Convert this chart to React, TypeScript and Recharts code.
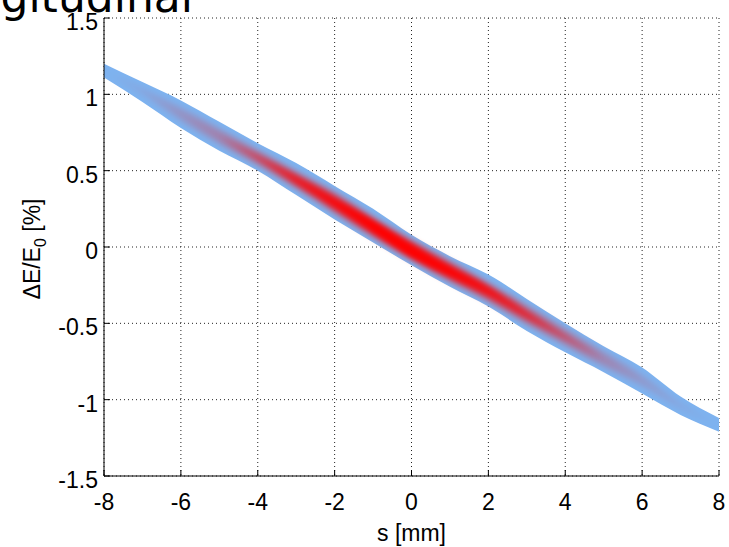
import { ComposedChart, Area, XAxis, YAxis, CartesianGrid, Label } from 'recharts';

const sVals = [-8, -7, -6, -5, -4, -3, -2, -1, 0, 1, 2, 3, 4, 5, 6, 7, 8];

// outer (light blue) envelope of the particle cloud, dE/E0 [%]
const bandUpper = [1.2, 1.08, 0.96, 0.82, 0.68, 0.55, 0.4, 0.25, 0.08, -0.06, -0.18, -0.34, -0.5, -0.65, -0.79, -0.98, -1.12];
const bandLower = [1.11, 0.95, 0.78, 0.63, 0.5, 0.34, 0.18, 0.03, -0.12, -0.26, -0.39, -0.55, -0.69, -0.82, -0.96, -1.1, -1.21];

// denser (pink/red) part of the cloud
const haloUpper = [1.17, 1.04, 0.91, 0.77, 0.63, 0.49, 0.35, 0.19, 0.04, -0.1, -0.24, -0.39, -0.54, -0.69, -0.84, -1.02, -1.15];
const haloLower = [1.14, 1.0, 0.83, 0.68, 0.54, 0.39, 0.23, 0.07, -0.08, -0.22, -0.35, -0.5, -0.64, -0.78, -0.91, -1.06, -1.18];

// core (bright red)
const coreUpper = [1.16, 1.03, 0.89, 0.75, 0.61, 0.47, 0.32, 0.17, 0.01, -0.13, -0.26, -0.42, -0.57, -0.71, -0.86, -1.03, -1.16];
const coreLower = [1.15, 1.01, 0.85, 0.7, 0.56, 0.41, 0.26, 0.1, -0.06, -0.19, -0.32, -0.47, -0.61, -0.76, -0.89, -1.05, -1.17];

const xTicks = [-8, -6, -4, -2, 0, 2, 4, 6, 8];
const yTicks = [-1.5, -1, -0.5, 0, 0.5, 1, 1.5];

const data = sVals.map((s, i) => ({
  s,
  band: [bandLower[i], bandUpper[i]],
  halo: [haloLower[i], haloUpper[i]],
  core: [coreLower[i], coreUpper[i]],
}));

const FONT = '"Liberation Sans", Arial, sans-serif';

const YLabel = (props: any) => {
  const vb = props.viewBox ?? { x: 0, y: 18, width: 104, height: 458 };
  const cx = vb.x + 40;
  const cy = vb.y + vb.height / 2 + 2;
  return (
    <text
      x={cx}
      y={cy}
      transform={`rotate(-90, ${cx}, ${cy})`}
      textAnchor="middle"
      fontSize={23}
      fontFamily={FONT}
      fill="#000"
    >
      ΔE/E<tspan dy={6} fontSize={16}>0</tspan>
      <tspan dy={-6}> [%]</tspan>
    </text>
  );
};

export default function App() {
  return (
    <div style={{ position: 'absolute', left: 0, top: 0, width: 729, height: 547, background: '#fff', overflow: 'hidden' }}>
      <ComposedChart width={729} height={547} data={data} margin={{ top: 18, right: 10, left: 0, bottom: 0 }}>
        <defs>
          <linearGradient id="haloFill" x1="0" y1="0" x2="1" y2="0">
            <stop offset="0" stopColor="#ff0000" stopOpacity={0} />
            <stop offset="0.125" stopColor="#ff0000" stopOpacity={0.18} />
            <stop offset="0.25" stopColor="#ff0000" stopOpacity={0.38} />
            <stop offset="0.375" stopColor="#ff0000" stopOpacity={0.7} />
            <stop offset="0.5" stopColor="#ff0000" stopOpacity={0.85} />
            <stop offset="0.625" stopColor="#ff0000" stopOpacity={0.62} />
            <stop offset="0.75" stopColor="#ff0000" stopOpacity={0.36} />
            <stop offset="0.875" stopColor="#ff0000" stopOpacity={0.15} />
            <stop offset="1" stopColor="#ff0000" stopOpacity={0} />
          </linearGradient>
          <linearGradient id="coreFill" x1="0" y1="0" x2="1" y2="0">
            <stop offset="0.19" stopColor="#ff0000" stopOpacity={0} />
            <stop offset="0.31" stopColor="#ff0000" stopOpacity={0.6} />
            <stop offset="0.44" stopColor="#ff0000" stopOpacity={1} />
            <stop offset="0.5" stopColor="#ff0000" stopOpacity={1} />
            <stop offset="0.56" stopColor="#ff0000" stopOpacity={0.95} />
            <stop offset="0.69" stopColor="#ff0000" stopOpacity={0.5} />
            <stop offset="0.81" stopColor="#ff0000" stopOpacity={0} />
          </linearGradient>
          <filter id="softA" x="-10%" y="-10%" width="120%" height="120%">
            <feGaussianBlur stdDeviation="3" />
          </filter>
          <filter id="softB" x="-10%" y="-10%" width="120%" height="120%">
            <feGaussianBlur stdDeviation="2.5" />
          </filter>
          <filter id="softC" x="-5%" y="-5%" width="110%" height="110%">
            <feGaussianBlur stdDeviation="0.7" />
          </filter>
        </defs>
        <CartesianGrid stroke="#222" strokeDasharray="1 3" />
        <XAxis
          dataKey="s"
          type="number"
          domain={[-8, 8]}
          ticks={xTicks}
          allowDataOverflow
          height={71}
          axisLine={{ stroke: '#000' }}
          tickLine={{ stroke: '#000' }}
          tickSize={-6}
          tickMargin={24}
          tick={{ fill: '#000', fontSize: 23, fontFamily: FONT }}
        >
          <Label value="s [mm]" position="insideBottom" offset={6} fill="#000" fontSize={23} fontFamily={FONT} />
        </XAxis>
        <XAxis
          xAxisId="top"
          orientation="top"
          dataKey="s"
          type="number"
          domain={[-8, 8]}
          ticks={xTicks}
          allowDataOverflow
          height={0}
          axisLine={{ stroke: '#000' }}
          tickLine={{ stroke: '#000' }}
          tickSize={-6}
          tick={false}
        />
        <YAxis
          type="number"
          domain={[-1.5, 1.5]}
          ticks={yTicks}
          allowDataOverflow
          width={104}
          axisLine={{ stroke: '#000' }}
          tickLine={{ stroke: '#000' }}
          tickSize={-6}
          tickMargin={12}
          tick={{ fill: '#000', fontSize: 23, fontFamily: FONT, dy: 4 }}
        >
          <Label content={<YLabel />} />
        </YAxis>
        <YAxis
          yAxisId="right"
          orientation="right"
          type="number"
          domain={[-1.5, 1.5]}
          ticks={yTicks}
          allowDataOverflow
          width={0}
          axisLine={{ stroke: '#000' }}
          tickLine={{ stroke: '#000' }}
          tickSize={-6}
          tick={false}
        />
        <Area
          dataKey="band"
          type="monotone"
          fill="#7db3f0"
          fillOpacity={1}
          stroke="none"
          filter="url(#softC)"
          isAnimationActive={false}
          activeDot={false}
        />
        <Area
          dataKey="halo"
          type="monotone"
          fill="url(#haloFill)"
          fillOpacity={1}
          stroke="none"
          filter="url(#softA)"
          isAnimationActive={false}
          activeDot={false}
        />
        <Area
          dataKey="core"
          type="monotone"
          fill="url(#coreFill)"
          fillOpacity={1}
          stroke="none"
          filter="url(#softB)"
          isAnimationActive={false}
          activeDot={false}
        />
      </ComposedChart>
      <svg width={729} height={30} style={{ position: 'absolute', left: 0, top: 0, pointerEvents: 'none' }}>
        <text x={193} y={12} textAnchor="end" fontSize={44} fontFamily='"DejaVu Sans", sans-serif' fill="#000">
          Longitudinal
        </text>
      </svg>
    </div>
  );
}
